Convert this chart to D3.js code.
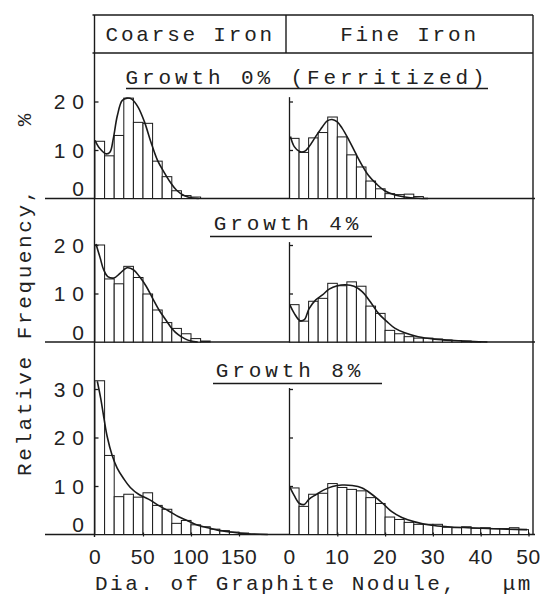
<!DOCTYPE html>
<html>
<head>
<meta charset="utf-8">
<script src="https://cdn.jsdelivr.net/npm/d3@7"></script>
<style>
  body { margin: 0; background: #fff; }
  svg text { font-family: 'Liberation Mono', monospace; fill: #222; }
  svg .num { font-family: 'Liberation Sans', sans-serif; }
</style>
</head>
<body>
<div id="chart"></div>
<script>
// --- data ---
let ironLabels = ['Coarse Iron', 'Fine Iron']
let growthLabels = ['Growth 0% (Ferritized)', 'Growth 4%', 'Growth 8%']

let coarseBin = 10 // um
let fineBin = 2 // um

// relative frequency (%) per bin
let coarse0 = [11.8, 8.8, 13.0, 20.7, 15.7, 15.5, 7.7, 4.5, 1.6, 0.6, 0.3]
let coarse4 = [20.0, 13.0, 12.0, 15.6, 13.3, 9.9, 6.6, 4.0, 2.8, 1.7, 0.7, 0.2]
let coarse8 = [31.7, 16.3, 7.8, 8.3, 7.7, 8.6, 6.0, 5.2, 2.3, 2.9, 2.0, 1.6, 1.1, 0.8, 0.5, 0.3]

let fine0 = [12.4, 9.5, 12.5, 13.6, 16.8, 12.7, 9.0, 6.5, 3.6, 2.0, 1.0, 0.8, 0.9, 0.4]
let fine4 = [7.7, 4.3, 8.4, 9.0, 12.1, 11.6, 12.4, 11.5, 7.4, 5.9, 2.4, 1.7, 1.1, 0.8, 0.8, 0.6, 0.4, 0.3, 0.2, 0.1]
let fine8 = [9.6, 5.8, 8.3, 8.5, 10.5, 9.7, 9.3, 9.0, 7.6, 6.4, 3.6, 3.1, 2.5, 2.1, 2.1, 2.1, 1.5, 1.4, 1.6, 1.3, 1.4, 1.2, 1.2, 1.4, 1.0]

// fitted curves [diameter um, %]
let coarseCurve0 = [[0, 12.0], [5, 10.3], [11.7, 9.2], [15.7, 9.6], [19, 12.3], [23.3, 17.1], [28.3, 20.2], [33.3, 20.7], [38.3, 20.5], [45, 18.8], [51.7, 15.7], [58.3, 11.6], [65, 7.9], [71.7, 5.5], [78.3, 3.4], [85, 1.7], [93.3, 0.55], [101.7, 0.1], [108, 0]]
let coarseCurve4 = [[1, 20.2], [5.3, 17.4], [9, 14.9], [13.3, 13.5], [19.7, 13.2], [26.3, 14.2], [33.3, 15.3], [40, 14.9], [46.3, 13.5], [53.3, 11.5], [60, 9.0], [66.7, 6.6], [74, 4.5], [80, 2.8], [86.7, 1.5], [93.3, 0.7], [100, 0.2], [107, 0]]
let coarseCurve8 = [[2.4, 31.6], [5.9, 28.1], [9.3, 24.0], [12.8, 20.1], [17.9, 16.3], [23.1, 13.7], [29.9, 11.5], [36.8, 9.7], [45.4, 8.3], [55.7, 7.3], [66, 6.0], [76.3, 4.9], [86.6, 3.7], [96.9, 2.8], [107.2, 1.9], [117.5, 1.4], [127.8, 0.9], [141.6, 0.5], [155.4, 0.2], [165, 0.1], [180, 0]]

let fineCurve0 = [[0.2, 12.8], [1.0, 10.7], [2.1, 9.7], [3.1, 9.7], [4.1, 10.7], [5.5, 12.8], [6.9, 14.8], [7.9, 16.0], [8.9, 16.3], [10.0, 15.8], [11.0, 14.5], [12.4, 12.1], [13.8, 9.4], [15.1, 7.0], [16.5, 4.8], [18.3, 2.9], [20.0, 1.55], [22.1, 0.7], [24.1, 0.3], [26.9, 0.05], [29, 0]]
let fineCurve4 = [[0.1, 7.6], [1.0, 5.9], [2.2, 4.4], [3.1, 4.6], [4.1, 6.9], [5.5, 8.7], [6.9, 9.7], [8.3, 10.9], [10.0, 11.6], [11.7, 11.8], [13.5, 11.5], [15.2, 10.4], [16.9, 8.3], [18.6, 5.9], [20.4, 4.2], [22.1, 2.8], [24.1, 1.9], [26.9, 1.1], [30.4, 0.6], [34.5, 0.3], [38.6, 0.1], [41.4, 0]]
let fineCurve8 = [[0.1, 9.7], [1.0, 8.0], [2.1, 6.4], [3.1, 6.2], [4.1, 7.3], [5.5, 8.2], [7.2, 9.2], [9.0, 9.9], [11.0, 10.2], [13.1, 10.1], [15.2, 9.6], [17.2, 8.3], [19.3, 6.6], [21.4, 4.7], [23.5, 3.5], [26.2, 2.6], [29.7, 1.9], [33.1, 1.6], [37.3, 1.4], [41.4, 1.25], [45.5, 1.1], [49.7, 1.0]]

let yTicks = [[0, 10, 20], [0, 10, 20], [0, 10, 20, 30]]
let yTops = [21, 20.7, 30.3]
let coarseXTicks = [0, 50, 100, 150]
let fineXTicks = [0, 10, 20, 30, 40, 50]
let xTitle = 'Dia. of Graphite Nodule,   \u03bcm'
let yTitle = 'Relative Frequency,    %'

// --- layout ---
let width = 542
let height = 602
let frame = { left: 94.5, right: 533, top: 15, header: 53, bottom: 537 }
let divider = 286
let baselines = [198.5, 342, 534.5]
let pxPerUnit = 4.85
let ink = '#1a1a1a'

let svg = d3
  .select('#chart')
  .append('svg')
  .attr('width', width)
  .attr('height', height)

let xCoarse = d3.scaleLinear().domain([0, 150]).range([95, 95 + 0.96 * 150])
let xFine = d3.scaleLinear().domain([0, 50]).range([289.5, 289.5 + 4.78 * 50])

let rows = [
  { coarse: coarse0, fine: fine0, coarseCurve: coarseCurve0, fineCurve: fineCurve0 },
  { coarse: coarse4, fine: fine4, coarseCurve: coarseCurve4, fineCurve: fineCurve4 },
  { coarse: coarse8, fine: fine8, coarseCurve: coarseCurve8, fineCurve: fineCurve8 }
]

let growthPos = [
  { cx: 307, base: 84, line: [126, 488], ly: 88.5 },
  { cx: 288, base: 230, line: [210, 372], ly: 236.5 },
  { cx: 290, base: 377, line: [213, 382], ly: 383.5 }
]

// frame + header
let frameG = svg.append('g').attr('stroke', ink).attr('stroke-width', 1.4).attr('fill', 'none')
frameG.append('line').attr('x1', frame.left - 2).attr('x2', frame.right).attr('y1', frame.top).attr('y2', frame.top)
frameG.append('line').attr('x1', frame.left - 2).attr('x2', frame.right).attr('y1', frame.header).attr('y2', frame.header)
frameG.append('line').attr('x1', frame.left).attr('x2', frame.left).attr('y1', frame.top).attr('y2', frame.bottom)
frameG.append('line').attr('x1', frame.right).attr('x2', frame.right).attr('y1', frame.top).attr('y2', baselines[2])
frameG.append('line').attr('x1', divider).attr('x2', divider).attr('y1', frame.top).attr('y2', frame.header)

svg
  .selectAll('.iron-label')
  .data(ironLabels)
  .enter()
  .append('text')
  .attr('class', 'iron-label')
  .attr('x', (d, i) => (i === 0 ? (frame.left + divider) / 2 : (divider + frame.right) / 2))
  .attr('y', 41)
  .attr('text-anchor', 'middle')
  .attr('font-size', 21)
  .attr('letter-spacing', 2.8)
  .text(d => d)

rows.forEach((row, r) => {
  let base = baselines[r]
  let y = d3.scaleLinear().domain([0, 10]).range([base, base - 10 * pxPerUnit])
  let g = svg.append('g').attr('class', 'row')

  // baseline
  g.append('line')
    .attr('x1', 45)
    .attr('x2', 535)
    .attr('y1', base)
    .attr('y2', base)
    .attr('stroke', ink)
    .attr('stroke-width', 1.5)

  let panels = [
    { values: row.coarse, curve: row.coarseCurve, bin: coarseBin, x: xCoarse },
    { values: row.fine, curve: row.fineCurve, bin: fineBin, x: xFine }
  ]

  panels.forEach((p, k) => {
    g.append('g')
      .selectAll('rect')
      .data(p.values)
      .enter()
      .append('rect')
      .attr('x', (d, i) => p.x(i * p.bin))
      .attr('width', (d, i) => p.x((i + 1) * p.bin) - p.x(i * p.bin))
      .attr('y', d => y(d))
      .attr('height', d => y(0) - y(d))
      .attr('fill', '#fff')
      .attr('stroke', ink)
      .attr('stroke-width', 1)

    let line = d3
      .line()
      .x(d => p.x(d[0]))
      .y(d => y(d[1]))
      .curve(d3.curveCatmullRom.alpha(0.5))

    g.append('path')
      .datum(p.curve)
      .attr('d', line)
      .attr('fill', 'none')
      .attr('stroke', ink)
      .attr('stroke-width', 1.6)

    // y axis with inward ticks
    let yAxisScale = y.copy().domain([0, yTops[r]]).range([base, base - yTops[r] * pxPerUnit])
    g.append('g')
      .attr('transform', `translate(${p.x(0) - 0.5},0)`)
      .call(
        d3.axisRight(yAxisScale)
          .tickValues(yTicks[r].filter(v => v > 0))
          .tickSize(4)
          .tickSizeOuter(0)
          .tickFormat('')
      )
      .call(a => a.selectAll('path, line').attr('stroke', ink).attr('stroke-width', 1.3))
      .call(a => { if (k === 0) a.select('.domain').remove() })
  })

  // y tick labels on the coarse side
  g.selectAll('.ylab')
    .data(yTicks[r])
    .enter()
    .append('text')
    .attr('class', 'num')
    .attr('x', 91)
    .attr('y', d => y(d) + (d === 0 ? -10 : 0))
    .attr('dy', '0.36em')
    .attr('text-anchor', 'end')
    .attr('font-size', 21)
    .attr('letter-spacing', 7)
    .text(d => d)

  // growth title + underline
  let gp = growthPos[r]
  g.append('text')
    .attr('x', gp.cx)
    .attr('y', gp.base)
    .attr('text-anchor', 'middle')
    .attr('font-size', 21)
    .attr('letter-spacing', 3.9)
    .text(growthLabels[r])
  g.append('line')
    .attr('x1', gp.line[0])
    .attr('x2', gp.line[1])
    .attr('y1', gp.ly)
    .attr('y2', gp.ly)
    .attr('stroke', ink)
    .attr('stroke-width', 1.4)
})

// x axes on bottom row
let xAxes = [
  { scale: xCoarse, ticks: coarseXTicks },
  { scale: xFine, ticks: fineXTicks }
]
xAxes.forEach(ax => {
  svg.append('g')
    .attr('transform', `translate(0,${baselines[2] - 2})`)
    .call(d3.axisBottom(ax.scale).tickValues(ax.ticks.filter(v => v > 0)).tickSize(4).tickFormat(''))
    .call(a => a.select('.domain').remove())
    .call(a => a.selectAll('line').attr('stroke', ink).attr('stroke-width', 1.2))

  svg.append('g')
    .selectAll('text')
    .data(ax.ticks)
    .enter()
    .append('text')
    .attr('class', 'num')
    .attr('x', d => ax.scale(d))
    .attr('y', 564)
    .attr('text-anchor', 'middle')
    .attr('font-size', 21)
    .attr('letter-spacing', 0.5)
    .text(d => d)
})

svg.append('text')
  .attr('x', 95)
  .attr('y', 590)
  .attr('font-size', 21)
  .attr('letter-spacing', 2.5)
  .style('white-space', 'pre')
  .text(xTitle)

svg.append('text')
  .attr('transform', 'translate(31,476) rotate(-90)')
  .attr('font-size', 21)
  .attr('letter-spacing', 2.6)
  .style('white-space', 'pre')
  .text(yTitle)
</script>
</body>
</html>
